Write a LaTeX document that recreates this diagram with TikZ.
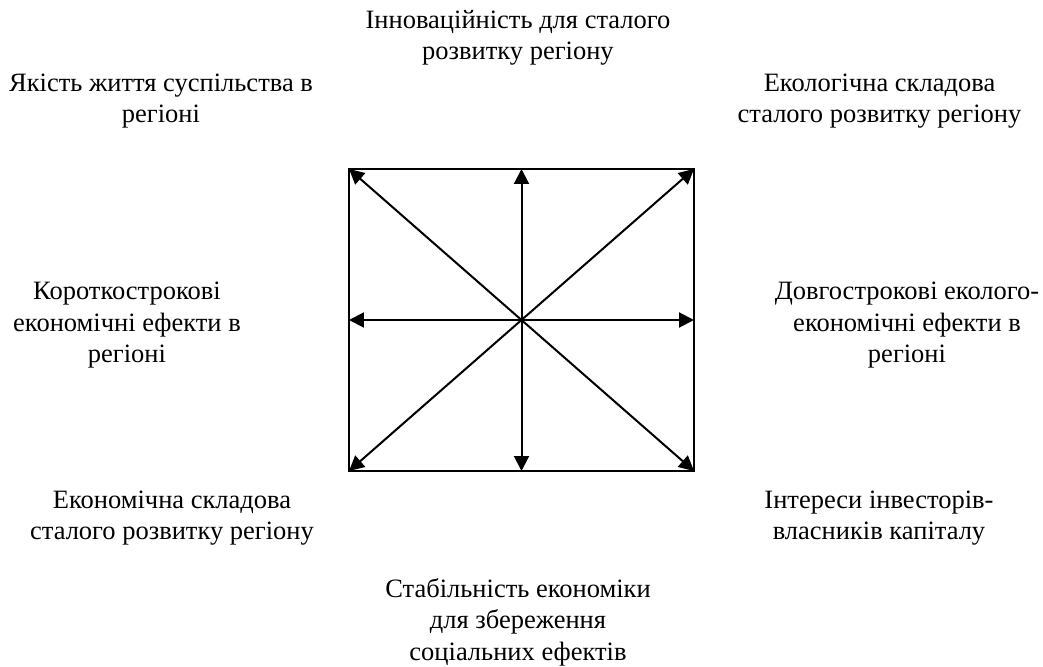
\documentclass[tikz,border=0pt]{standalone}
\usepackage{fontspec}
\setmainfont{Liberation Serif}
\usetikzlibrary{arrows.meta}

\tikzset{
	factor/.style={align=center, inner sep=0pt, font=\fontsize{26.5}{31.5}\selectfont},
	link/.style={-{Triangle[length=15pt, width=15pt]}, line width=2pt}
}

\begin{document}
\begin{tikzpicture}[x=1pt, y=1pt]
		%definition of origin
		\coordinate (O) at (0,0);
		
		%half width and half height of the square
		\def\W{172.5};
		\def\H{151};
		
		\useasboundingbox (-521.5,-346) rectangle (521.5,320);
		
		%square and its points
		\draw [line width=1.6pt] (O) ++(-\W,-\H) coordinate (bottom left) rectangle ++(2*\W,2*\H) coordinate (top right);
		\coordinate (top left) at (-\W,\H);
		\coordinate (bottom right) at (\W,-\H);
		\coordinate (top) at (0,\H);
		\coordinate (bottom) at (0,-\H);
		\coordinate (left) at (-\W,0);
		\coordinate (right) at (\W,0);
		
		%arrows from the centre
		\foreach \p in {top left, top, top right, right, bottom right, bottom, bottom left, left}
			\draw [link] (O) -- (\p);
		
		%factors
		\node [factor] (innovation) at (-3.5,282) {Інноваційність для сталого\\розвитку регіону};
		\node [factor] (quality) at (-360.5,219) {Якість життя суспільства в\\регіоні};
		\node [factor] (ecology) at (358,219) {Екологічна складова\\сталого розвитку регіону};
		\node [factor] (short term) at (-394.5,-5.5) {Короткострокові\\економічні ефекти в\\регіоні};
		\node [factor] (long term) at (385.5,-5.5) {Довгострокові еколого-\\економічні ефекти в\\регіоні};
		\node [factor] (economy) at (-349.5,-198) {Економічна складова\\сталого розвитку регіону};
		\node [factor] (investors) at (357.5,-198) {Інтереси інвесторів-\\власників капіталу};
		\node [factor] (stability) at (-3.5,-302) {Стабільність економіки\\для збереження\\соціальних ефектів};
	\end{tikzpicture}
\end{document}
